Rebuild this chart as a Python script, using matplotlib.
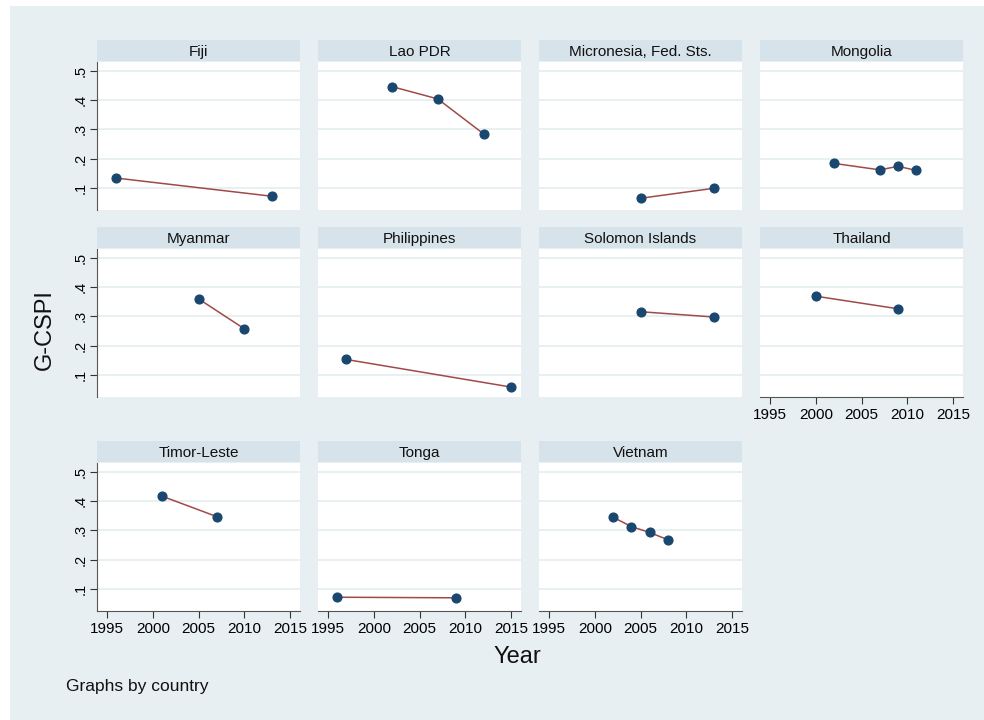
import matplotlib
matplotlib.use("Agg")
import matplotlib.pyplot as plt
from matplotlib.patches import Rectangle
from matplotlib.ticker import FuncFormatter

plt.rcParams['font.family'] = ['Liberation Sans', 'DejaVu Sans']

countries = ["Fiji", "Lao PDR", "Micronesia, Fed. Sts.", "Mongolia",
             "Myanmar", "Philippines", "Solomon Islands", "Thailand",
             "Timor-Leste", "Tonga", "Vietnam"]
years = [[1996, 2013], [2002, 2007, 2012], [2005, 2013], [2002, 2007, 2009, 2011],
         [2005, 2010], [1997, 2015], [2005, 2013], [2000, 2009],
         [2001, 2007], [1996, 2009], [2002, 2004, 2006, 2008]]
gcspi = [[0.134, 0.072], [0.446, 0.404, 0.285], [0.065, 0.099], [0.184, 0.162, 0.174, 0.160],
         [0.360, 0.258], [0.153, 0.059], [0.316, 0.298], [0.369, 0.326],
         [0.417, 0.347], [0.072, 0.070], [0.345, 0.313, 0.293, 0.268]]
xticks = [1995, 2000, 2005, 2010, 2015]
yticks = [0.1, 0.2, 0.3, 0.4, 0.5]

W, H = 984, 720
BG = "#e8eff2"
STRIP = "#d7e3ea"
GRID = "#e4edf0"
NAVY = "#1a476f"
MAROON = "#a04a48"

fig = plt.figure(figsize=(W / 100, H / 100), dpi=100)
fig.patches.append(Rectangle((10 / W, 0), 1, 1 - 6 / H, transform=fig.transFigure,
                             facecolor=BG, edgecolor="none", zorder=-10))

col_x = [97, 318, 539, 760]
col_w = 203
row_top = [40, 227, 441]   # strip tops in pixels
strip_h = 21
plot_h = 148


def px(x, y, w, h):
    return [x / W, 1 - (y + h) / H, w / W, h / H]


def stata_fmt(v, pos):
    s = "%g" % round(v, 2)
    return s[1:] if s.startswith("0.") else s


for i, name in enumerate(countries):
    r, c = divmod(i, 4)
    x0 = col_x[c]
    y0 = row_top[r]
    # title strip
    sax = fig.add_axes(px(x0, y0, col_w, strip_h))
    sax.set_facecolor(STRIP)
    sax.set_xticks([]); sax.set_yticks([])
    for s in sax.spines.values():
        s.set_visible(False)
    sax.text(0.5, 0.45, name, ha="center", va="center", fontsize=11, color="#111111")

    ax = fig.add_axes(px(x0, y0 + strip_h + 1, col_w, plot_h))
    ax.set_facecolor("white")
    ax.set_xlim(1993.9, 2016.1)
    ax.set_ylim(0.025, 0.53)
    ax.set_yticks(yticks)
    ax.set_xticks(xticks)
    ax.grid(axis="y", color=GRID, lw=1.2)
    ax.set_axisbelow(True)
    for s in ax.spines.values():
        s.set_visible(False)

    show_y = c == 0
    show_x = (r == 2) or (i == 7)
    ax.yaxis.set_major_formatter(FuncFormatter(stata_fmt))
    ax.tick_params(axis="y", left=show_y, labelleft=show_y, length=5, width=0.8,
                   color="#333333", labelsize=10.5, labelrotation=90, pad=2)
    for lab in ax.get_yticklabels():
        lab.set_va("center")
    ax.tick_params(axis="x", bottom=show_x, labelbottom=show_x, length=5, width=0.8,
                   color="#333333", labelsize=11, pad=3)
    if show_y:
        ax.spines["left"].set_visible(True)
        ax.spines["left"].set_color("#555555")
    if show_x:
        ax.spines["bottom"].set_visible(True)
        ax.spines["bottom"].set_color("#555555")

    ax.plot(years[i], gcspi[i], color=MAROON, lw=1.1, zorder=2)
    ax.plot(years[i], gcspi[i], "o", color=NAVY, ms=6.3, zorder=3, clip_on=False)

fig.text(45 / W, 1 - 330 / H, "G-CSPI", rotation=90, ha="center", va="center",
         fontsize=17, color="#111111")
fig.text(517 / W, 1 - 657 / H, "Year", ha="center", va="center",
         fontsize=17, color="#111111")
fig.text(66 / W, 1 - 686 / H, "Graphs by country", ha="left", va="center",
         fontsize=12.5, color="#111111")

fig.savefig("out.png", dpi=100)
